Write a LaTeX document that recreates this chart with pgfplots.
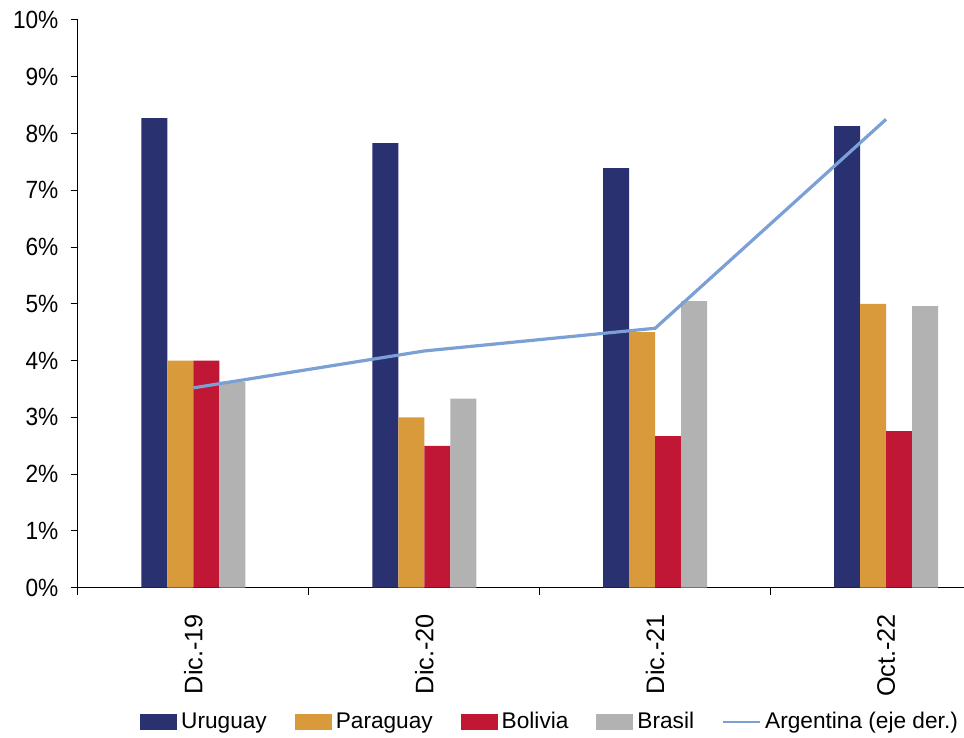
\documentclass[border=0pt]{standalone}
\usepackage{pgfplots}
\pgfplotsset{compat=1.18}
\usepackage{fontspec}
\setmainfont{Liberation Sans}

\definecolor{cUru}{RGB}{41,49,112}
\definecolor{cPar}{RGB}{216,154,59}
\definecolor{cBol}{RGB}{192,23,52}
\definecolor{cBra}{RGB}{178,178,178}
\definecolor{cArg}{RGB}{123,160,214}

\pgfplotsset{
  patchlegend/.style={legend image code/.code={\fill[##1] (0pt,-6pt) rectangle (27.75pt,6pt);}},
}

\begin{document}
\begin{tikzpicture}
\begin{axis}[
  scale only axis,
  width=664.5pt, height=426pt,
  xmin=-0.5, xmax=3.3355,
  ymin=0, ymax=10,
  axis lines*=left,
  axis line style={black, line width=0.75pt},
  every tick/.style={black, line width=0.75pt},
  tick align=outside,
  ytick={0,1,...,10},
  yticklabel={\pgfmathprintnumber{\tick}\%},
  yticklabel style={anchor=east, inner sep=0pt, yscale=1.1, font=\fontsize{17}{20}\selectfont},
  yticklabel shift=9pt,
  major tick length=5.5pt,
  xtick={-0.5,0.5,1.5,2.5},
  xticklabels={},
  extra x ticks={0,1,2,3},
  extra x tick labels={Dic.-19,Dic.-20,Dic.-21,Oct.-22},
  extra x tick style={major tick length=0pt},
  xticklabel style={rotate=90, anchor=east, inner sep=0pt, font=\fontsize{19}{22}\selectfont},
  xticklabel shift=19.5pt,
  /pgf/number format/assume math mode=true,
  legend columns=5,
  legend style={
    at={(axis description cs:0.07,-0.236)}, anchor=west,
    draw=none, fill=none, inner sep=0pt,
    font=\fontsize{17}{20}\selectfont,
    nodes={inner sep=0pt},
    /tikz/every odd column/.append style={column sep=3pt},
    /tikz/every even column/.append style={column sep=21pt},
  },
]
% Bars, one series per country
\addplot[ybar, bar width=19.5pt, bar shift=-29.25pt, fill=cUru, draw=none, patchlegend]
  coordinates {(0,8.27) (1,7.83) (2,7.39) (3,8.13)};
\addlegendentry{Uruguay}
\addplot[ybar, bar width=19.5pt, bar shift=-9.75pt, fill=cPar, draw=none, patchlegend]
  coordinates {(0,4.0) (1,3.0) (2,4.5) (3,5.0)};
\addlegendentry{Paraguay}
\addplot[ybar, bar width=19.5pt, bar shift=9.75pt, fill=cBol, draw=none, patchlegend]
  coordinates {(0,4.0) (1,2.5) (2,2.67) (3,2.76)};
\addlegendentry{Bolivia}
\addplot[ybar, bar width=19.5pt, bar shift=29.25pt, fill=cBra, draw=none, patchlegend]
  coordinates {(0,3.63) (1,3.33) (2,5.05) (3,4.96)};
\addlegendentry{Brasil}
% Argentina line (secondary scale, drawn on the same frame)
\addplot[sharp plot, color=cArg, line width=2.4pt, no marks,
  legend image code/.code={\draw[cArg, line width=1.6pt] (0pt,0pt) -- (27.75pt,0pt);}]
  coordinates {(0,3.52) (1,4.17) (2,4.57) (3,8.25)};
\addlegendentry{Argentina (eje der.)}
\end{axis}
\path[use as bounding box] (-58.5pt,-112.5pt) rectangle (664.5pt,441pt);
\end{tikzpicture}
\end{document}
